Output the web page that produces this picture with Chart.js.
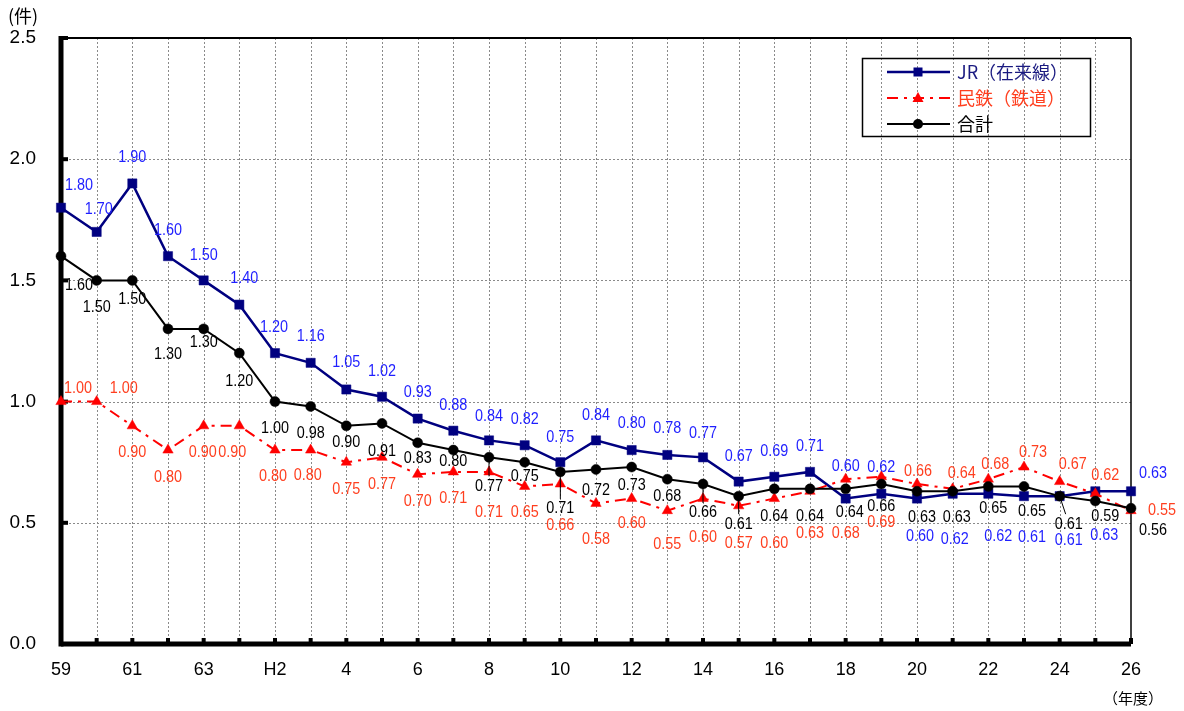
<!DOCTYPE html>
<html><head><meta charset="utf-8">
<script src="https://cdn.jsdelivr.net/npm/chart.js@4/dist/chart.umd.min.js"></script>
<style>html,body{margin:0;padding:0;background:#fff;overflow:hidden}</style>
</head><body>
<canvas id="c" width="1184" height="711"></canvas>
<script>
// ---- data ----
const categories = ['59','60','61','62','63','元','H2','3','4','5','6','7','8','9','10','11','12','13','14','15','16','17','18','19','20','21','22','23','24','25','26'];
const jrValues = [1.80,1.70,1.90,1.60,1.50,1.40,1.20,1.16,1.05,1.02,0.93,0.88,0.84,0.82,0.75,0.84,0.80,0.78,0.77,0.67,0.69,0.71,0.60,0.62,0.60,0.62,0.62,0.61,0.61,0.63,0.63];
const privateValues = [1.00,1.00,0.90,0.80,0.90,0.90,0.80,0.80,0.75,0.77,0.70,0.71,0.71,0.65,0.66,0.58,0.60,0.55,0.60,0.57,0.60,0.63,0.68,0.69,0.66,0.64,0.68,0.73,0.67,0.62,0.55];
const totalValues = [1.60,1.50,1.50,1.30,1.30,1.20,1.00,0.98,0.90,0.91,0.83,0.80,0.77,0.75,0.71,0.72,0.73,0.68,0.66,0.61,0.64,0.64,0.64,0.66,0.63,0.63,0.65,0.65,0.61,0.59,0.56];
const seriesNames = ['JR（在来線）','民鉄（鉄道）','合計'];
const yUnit = '(件)';
const xUnit = '（年度）';

// ---- label placement (offsets from each point, px) ----
const jrLabelOffsets = [[18,-22],[2,-22],[0,-26],[0,-26],[0,-25],[5,-26],[-1,-26],[0,-26],[0,-27],[0,-25],[0,-26],[0,-25],[0,-24],[0,-26],[0,-25],[0,-25],[0,-26],[0,-26],[0,-24],[0,-25],[0,-25],[0,-25],[0,-32],[0,-26],[3,38],[2,46],[10,43],[8,41],[9,44],[9,44],[22,-18]];
const privateLabelOffsets = [[17,-13],[27,-13],[0,27],[0,28],[-1,27],[-7,27],[-2,27],[-3,26],[0,27],[0,27],[0,27],[0,27],[0,41],[0,26],[0,42],[0,36],[0,25],[0,34],[0,39],[0,38],[0,45],[0,42],[0,54],[0,46],[1,-12],[9,-15],[7,-15],[9,-14],[13,-17],[10,-18],[31,0]];
const totalLabelOffsets = [[18,29],[0,27],[0,19],[0,26],[0,14],[0,28],[0,27],[0,27],[0,17],[0,28],[0,16],[0,12],[0,29],[0,14],[0,37],[0,21],[0,19],[0,17],[0,29],[0,28],[0,28],[0,28],[4,24],[0,23],[5,26],[4,26],[5,22],[8,25],[9,28],[10,16],[22,22]];
const totalLeaders = [12,14,18,19,28];

const FONT = '"Liberation Sans", Arial, "Noto Sans CJK JP", sans-serif';
const JFONT = '"Noto Sans CJK JP", sans-serif';

const framePlugin = {
  id: 'frame',
  beforeDatasetsDraw(chart) {
    const {ctx, chartArea: a, scales: {x, y}} = chart;
    ctx.save();
    // dotted grid
    ctx.strokeStyle = '#8a8a8a';
    ctx.lineWidth = 1;
    ctx.setLineDash([2, 2]);
    [0.5, 1.0, 1.5, 2.0].forEach(v => {
      const py = Math.round(y.getPixelForValue(v)) + 0.5;
      ctx.beginPath(); ctx.moveTo(a.left, py); ctx.lineTo(a.right, py); ctx.stroke();
    });
    for (let i = 1; i < categories.length - 1; i++) {
      const px = Math.round(x.getPixelForValue(i)) + 0.5;
      ctx.beginPath(); ctx.moveTo(px, a.top); ctx.lineTo(px, a.bottom); ctx.stroke();
    }
    ctx.setLineDash([]);
    // top and right border
    ctx.strokeStyle = '#000';
    ctx.lineWidth = 2;
    ctx.beginPath(); ctx.moveTo(a.left, a.top); ctx.lineTo(a.right, a.top); ctx.stroke();
    ctx.lineWidth = 1.5;
    ctx.beginPath(); ctx.moveTo(a.right, a.top); ctx.lineTo(a.right, a.bottom); ctx.stroke();
    // thick axes
    ctx.lineWidth = 5;
    ctx.beginPath(); ctx.moveTo(a.left, a.top - 2); ctx.lineTo(a.left, a.bottom + 2.5); ctx.stroke();
    ctx.beginPath(); ctx.moveTo(a.left, a.bottom); ctx.lineTo(a.right, a.bottom); ctx.stroke();
    // tick marks
    ctx.fillStyle = '#000';
    [0.5, 1.0, 1.5, 2.0, 2.5].forEach(v => {
      const py = y.getPixelForValue(v);
      ctx.fillRect(a.left, py - 2, 7, 4);
    });
    for (let i = 1; i < categories.length; i++) {
      const px = x.getPixelForValue(i);
      ctx.fillRect(px - 2, a.bottom - 6, 4, 6);
    }
    ctx.restore();
  },
  afterDatasetsDraw(chart) {
    const ctx = chart.ctx;
    ctx.save();
    ctx.font = '16px ' + FONT;
    ctx.textAlign = 'center';
    ctx.textBaseline = 'middle';
    chart.data.datasets.forEach((ds, di) => {
      const meta = chart.getDatasetMeta(di);
      meta.data.forEach((pt, i) => {
        const [dx, dy] = ds.labelOffsets[i];
        const lx = pt.x + dx, ly = pt.y + dy;
        if (ds.leaders && ds.leaders.includes(i)) {
          ctx.strokeStyle = '#000'; ctx.lineWidth = 1;
          ctx.beginPath(); ctx.moveTo(pt.x, pt.y); ctx.lineTo(lx - (dx > 0 ? 3 : 0), ly - 10); ctx.stroke();
        }
        ctx.fillStyle = ds.labelColor;
        ctx.save();
        ctx.translate(lx, ly);
        ctx.scale(0.9, 1);
        ctx.fillText(ds.data[i].toFixed(2), 0, 0);
        ctx.restore();
      });
    });
    ctx.restore();
  },
  afterDraw(chart) {
    const ctx = chart.ctx;
    ctx.save();
    // unit labels
    ctx.fillStyle = '#000';
    ctx.font = '18px ' + JFONT;
    ctx.textAlign = 'left'; ctx.textBaseline = 'middle';
    ctx.fillText(yUnit, 8, 16);
    ctx.font = '15px ' + JFONT;
    ctx.textAlign = 'center';
    ctx.fillText(xUnit, 1133, 698);
    // legend
    ctx.strokeStyle = '#000'; ctx.lineWidth = 1.5;
    ctx.strokeRect(862.5, 58.5, 228, 78);
    const ys = [72, 98, 124];
    chart.data.datasets.forEach((ds, di) => {
      const ly = ys[di];
      ctx.strokeStyle = ds.borderColor;
      ctx.lineWidth = ds.borderWidth;
      ctx.setLineDash(ds.borderDash || []);
      ctx.beginPath(); ctx.moveTo(887, ly); ctx.lineTo(950, ly); ctx.stroke();
      ctx.setLineDash([]);
      ctx.fillStyle = ds.pointBackgroundColor;
      const mx = 918;
      if (ds.pointStyle === 'rect') { ctx.fillRect(mx - 4.5, ly - 4.5, 9, 9); }
      else if (ds.pointStyle === 'triangle') {
        ctx.beginPath(); ctx.moveTo(mx, ly - 6); ctx.lineTo(mx + 5.5, ly + 4); ctx.lineTo(mx - 5.5, ly + 4); ctx.closePath(); ctx.fill();
      } else { ctx.beginPath(); ctx.arc(mx, ly, 5, 0, Math.PI * 2); ctx.fill(); }
      ctx.fillStyle = ds.legendColor;
      ctx.font = '18px ' + JFONT;
      ctx.textAlign = 'left'; ctx.textBaseline = 'middle';
      ctx.fillText(ds.label, 957, ly);
    });
    ctx.restore();
  }
};

new Chart(document.getElementById('c'), {
  type: 'line',
  data: {
    labels: categories,
    datasets: [
      {
        label: seriesNames[0], data: jrValues, order: 3,
        borderColor: '#000080', backgroundColor: '#000080', borderWidth: 2.5,
        pointStyle: 'rect', pointRadius: 6.5, pointBackgroundColor: '#000080', pointBorderColor: '#000080', pointBorderWidth: 0.5,
        labelColor: '#1f1fff', legendColor: '#1a1a80', labelOffsets: jrLabelOffsets, clip: false
      },
      {
        label: seriesNames[1], data: privateValues, order: 2,
        borderColor: '#ff0000', backgroundColor: '#ff0000', borderWidth: 2, borderDash: [11, 6, 3, 6],
        pointStyle: 'triangle', pointRadius: 6, pointBackgroundColor: '#ff0000', pointBorderColor: '#ff0000', pointBorderWidth: 0.5,
        labelColor: '#ff3f1f', legendColor: '#ff3f1f', labelOffsets: privateLabelOffsets, clip: false
      },
      {
        label: seriesNames[2], data: totalValues, order: 1,
        borderColor: '#000000', backgroundColor: '#000000', borderWidth: 2,
        pointStyle: 'circle', pointRadius: 5, pointBackgroundColor: '#000000', pointBorderColor: '#000000', pointBorderWidth: 0.5,
        labelColor: '#000000', legendColor: '#000000', labelOffsets: totalLabelOffsets, leaders: totalLeaders, clip: false
      }
    ]
  },
  options: {
    responsive: false,
    animation: false,
    events: [],
    layout: { padding: { top: 38, right: 53, left: 0, bottom: 0 } },
    plugins: { legend: { display: false }, tooltip: { enabled: false } },
    elements: { line: { tension: 0 } },
    scales: {
      x: {
        type: 'category', offset: false,
        grid: { display: false }, border: { display: false },
        ticks: {
          autoSkip: false, maxRotation: 0, minRotation: 0, padding: 7, color: '#000',
          font: { size: 18, family: FONT },
          callback: (v, i) => (i % 2 === 0 ? categories[i] : '')
        },
        afterFit: s => { s.height = 67; }
      },
      y: {
        min: 0, max: 2.5,
        grid: { display: false }, border: { display: false },
        ticks: { stepSize: 0.5, padding: 17, color: '#000', font: { size: 19, family: FONT }, callback: v => Number(v).toFixed(1) },
        afterFit: s => { s.width = 61; }
      }
    }
  },
  plugins: [framePlugin]
});
</script>
</body></html>
